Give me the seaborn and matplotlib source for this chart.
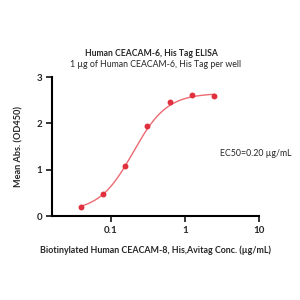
import matplotlib
matplotlib.use("Agg")
import matplotlib.pyplot as plt
from matplotlib.ticker import FixedLocator, NullLocator
import numpy as np
import pandas as pd
import seaborn as sns

# measured points
conc = [0.039, 0.078, 0.156, 0.3125, 0.625, 1.25, 2.5]
od450 = [0.20, 0.47, 1.09, 1.95, 2.46, 2.62, 2.59]

# 4PL fit
fit_bottom = 0.10
fit_top = 2.65
fit_ec50 = 0.20
fit_hill = 1.9

x_ticks = [0.1, 1, 10]
x_tick_labels = ["0.1", "1", "10"]
y_ticks = [0, 1, 2, 3]

POINT = "#e0303e"
CURVE = "#ec6a72"


def main() -> None:
    sns.set_theme(style="ticks")
    plt.rcParams["font.family"] = ["Lato", "DejaVu Sans"]

    df = pd.DataFrame({"conc": conc, "od": od450})
    xs = np.logspace(np.log10(min(conc)), np.log10(max(conc)), 200)
    curve = pd.DataFrame({
        "conc": xs,
        "od": fit_bottom + (fit_top - fit_bottom) / (1 + (fit_ec50 / xs) ** fit_hill),
    })

    fig = plt.figure(figsize=(3, 3), dpi=100)
    ax = fig.add_axes([0.173, 0.28, 0.69, 0.463])

    sns.lineplot(data=curve, x="conc", y="od", ax=ax, color=CURVE, linewidth=1.0)
    sns.scatterplot(data=df, x="conc", y="od", ax=ax, color=POINT, s=18,
                    edgecolor=POINT, linewidth=0, zorder=3)

    ax.set_xscale("log")
    ax.set_xlim(0.016, 10)
    ax.set_ylim(0, 3)
    ax.xaxis.set_major_locator(FixedLocator(x_ticks))
    ax.xaxis.set_minor_locator(NullLocator())
    ax.set_xticklabels(x_tick_labels)
    ax.set_yticks(y_ticks)
    ax.tick_params(axis="both", width=1.3, length=4, labelsize=7, pad=3)
    for lab in ax.get_xticklabels() + ax.get_yticklabels():
        lab.set_fontweight("bold")
    sns.despine(ax=ax)
    for sp in ("left", "bottom"):
        ax.spines[sp].set_linewidth(1.5)
        ax.spines[sp].set_color("black")

    ax.set_xlabel("Biotinylated Human CEACAM-8, His,Avitag Conc. (\u00b5g/mL)",
                  fontsize=6.4, fontweight="bold", labelpad=8)
    ax.set_ylabel("Mean Abs. (OD450)", fontsize=6.6, fontweight="bold", labelpad=9)

    fig.text(0.505, 0.823, "Human CEACAM-6, His Tag ELISA", ha="center", va="center",
             fontsize=6.2, fontweight="bold")
    fig.text(0.52, 0.785, "1 \u00b5g of Human CEACAM-6, His Tag per well", ha="center",
             va="center", fontsize=6.3)
    ax.text(0.985, 0.45, "EC50=0.20 \u00b5g/mL", transform=ax.transAxes, ha="center",
            va="center", fontsize=6.3)

    fig.savefig("out.png", dpi=100)
    plt.close(fig)


if __name__ == "__main__":
    main()
